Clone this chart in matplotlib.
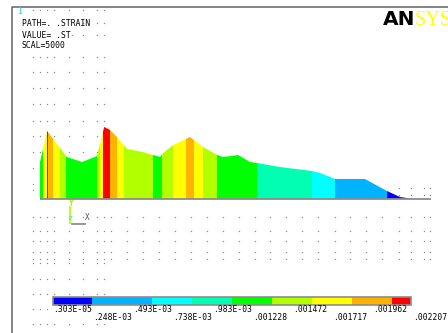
import matplotlib
matplotlib.use("Agg")
import matplotlib.pyplot as plt
import numpy as np

# path distance (0..100 along the path) and strain values on the path
path_s = [0, 1.9, 5.4, 7.2, 11.3, 15.3, 17.2, 18.8, 20.9, 23.3, 27.6, 30.3,
          32.2, 33.0, 35.7, 40.2, 43.7, 47.5, 49.1, 53.1, 56.3, 58.2, 64.3,
          72.9, 75.1, 79.1, 87.1, 93.0, 96.5, 100]
strain = [1.134e-3, 2.084e-3, 1.563e-3, 1.287e-3, 1.134e-3, 1.318e-3, 2.207e-3,
          2.115e-3, 1.870e-3, 1.533e-3, 1.440e-3, 1.349e-3, 1.287e-3, 1.410e-3,
          1.655e-3, 1.900e-3, 1.594e-3, 1.349e-3, 1.287e-3, 1.349e-3, 1.134e-3,
          1.103e-3, 0.981e-3, 0.858e-3, 0.797e-3, 0.613e-3, 0.613e-3, 0.245e-3,
          0.061e-3, 0.003e-3]
path_end = 104.8

# contour bands of the strips along the path (index into band_colors)
strip_edges = [0, 0.8, 1.9, 2.1, 3.5, 5.4, 7.0, 15.3, 16.1, 16.9, 18.8, 20.6,
               22.5, 30.3, 32.7, 35.7, 39.1, 41.3, 43.7, 47.5, 58.2, 72.9,
               79.1, 93.0, 100]
strip_band = [4, 6, 8, 7, 6, 5, 4, 5, 6, 8, 7, 6, 5, 4, 5, 6, 7, 6, 5, 4,
              3, 2, 1, 0]

band_colors = ['#0000ff', '#00b2ff', '#00ffff', '#00ffb2', '#00ff00',
               '#b2ff00', '#ffff00', '#ffb200', '#ff0000']
legend_edges = [0, 0.975, 2.475, 3.475, 4.475, 5.475, 6.475, 7.475, 8.475, 8.95]
legend_labels = ['.303E-05', '.248E-03', '.493E-03', '.738E-03', '.983E-03',
                 '.001228', '.001472', '.001717', '.001962', '.002207']

# background node dots (screen pixels)
cols_left = [33, 40, 47, 54, 69, 83, 97, 104]
cols_all = cols_left + [111, 127, 143, 159, 175, 191, 207, 223, 239, 255, 270,
                        286, 302, 318, 335, 350, 366, 382, 399, 411, 424, 430]
rows_top = [10, 57, 72, 88, 104, 121, 136, 152, 168, 184, 190]
rows_full = [217, 231, 241, 252, 259]
rows_low = [263, 279, 294, 324]
W, H = 448, 333

fig = plt.figure(figsize=(W / 100, H / 100), dpi=100)
fig.patch.set_facecolor('white')

page = fig.add_axes([0, 0, 1, 1])
page.set_xlim(0, W)
page.set_ylim(H, 0)
page.axis('off')

dot_kw = dict(ls='none', marker='s', ms=0.9, mew=0, color='#8a8a8a', zorder=1)
gx, gy = np.meshgrid(cols_left, rows_top + rows_low)
page.plot(gx.ravel(), gy.ravel(), **dot_kw)
gx, gy = np.meshgrid(cols_all, rows_full)
page.plot(gx.ravel(), gy.ravel(), **dot_kw)
gx, gy = np.meshgrid([399, 411, 424, 430], [188, 195])
page.plot(gx.ravel(), gy.ravel(), **dot_kw)
page.plot([83, 97, 104, 72, 83, 97, 104, 33, 40, 47, 85, 90],
          [23, 23, 23, 35, 35, 35, 35, 309, 309, 309, 309, 309], **dot_kw)

# window frame
page.plot([12, 12, W], [H, 7, 7], color='#6e6e6e', lw=1.2, zorder=2)

mono = dict(family='DejaVu Sans Mono', fontsize=5.8, color='black')
page.text(17, 11, '1', color='#00e0ff', family='DejaVu Sans Mono', fontsize=5.8,
          va='center')
page.text(22, 24, 'PATH=. .STRAIN', va='center', **mono)
page.text(22, 36, 'VALUE= .ST', va='center', **mono)
page.text(22, 46, 'SCAL=5000', va='center', **mono)

# logo
page.text(383, 25, 'AN', fontsize=14.5, fontweight='bold', color='black',
          va='baseline', ha='left')
page.text(415, 25, 'SYS', fontsize=14.5, color='#ffff00', family='Liberation Serif',
          va='baseline', ha='left')

# triad
page.plot([70, 70], [207, 223], color='#b2ff00', lw=1.3, zorder=3)
page.plot([72, 85], [224, 224], color='#909090', lw=1.3, zorder=3)
page.text(71, 204, 'Y', color='#a8e800', family='DejaVu Sans Mono', fontsize=5.5,
          fontweight='bold', ha='center', va='center', zorder=5)
page.text(70, 219, 'Z', color='#40c0ff', family='DejaVu Sans Mono', fontsize=4.5,
          ha='center', va='center')
page.text(87, 218, 'X', color='#555555', family='DejaVu Sans Mono', fontsize=5.5,
          ha='center', va='center')

# path plot
vmax = max(strain)
ax = fig.add_axes([40 / W, (H - 202) / H, (431 - 40) / W, 82 / H])
ax.set_xlim(0, path_end)
ax.set_ylim(-3 / 72 * vmax, 79 / 72 * vmax)
ax.axis('off')
ax.patch.set_alpha(0)

area = ax.fill_between(path_s, 0, strain, facecolor='none', edgecolor='none')
clip = area.get_paths()[0]
for a, b, k in zip(strip_edges[:-1], strip_edges[1:], strip_band):
    span = ax.axvspan(a, b, color=band_colors[k], lw=0, zorder=2)
    span.set_clip_path(clip, ax.transData)
ax.axhline(0, color='#8c8c8c', lw=1.3, zorder=3)

# contour legend
cax = fig.add_axes([53 / W, (H - 305) / H, 360 / W, 8 / H])
cax.set_xlim(0, 9)
cax.set_ylim(-0.5, 0.5)
cax.axis('off')
lefts = legend_edges[:-1]
widths = np.diff(legend_edges)
cax.barh(0, widths, left=lefts, height=1, color=band_colors, lw=0)
cax.add_patch(plt.Rectangle((0, -0.5), legend_edges[-1], 1, fill=False,
                            ec='#8c8c8c', lw=1.2, clip_on=False))
tr = cax.get_xaxis_transform()
for i, lab in enumerate(legend_labels):
    y = -0.5 if i % 2 == 0 else -1.6
    cax.text(i, y, lab, transform=tr, ha='left', va='center', **mono)

fig.savefig('out.png', dpi=100)
